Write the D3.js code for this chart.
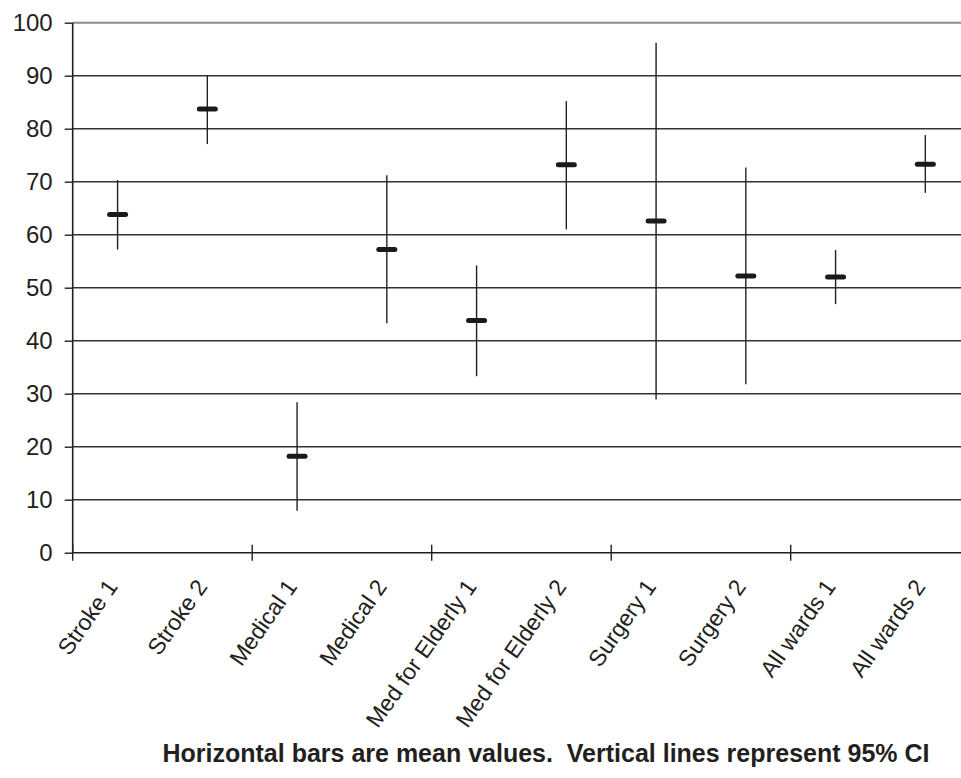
<!DOCTYPE html>
<html>
<head>
<meta charset="utf-8">
<script src="https://cdn.jsdelivr.net/npm/d3@7/dist/d3.min.js"></script>
<style>
  html, body { margin: 0; padding: 0; background: #fff; }
  svg { display: block; font-family: "Liberation Sans", Arial, sans-serif; }
</style>
</head>
<body>
<svg id="chart" width="961" height="778"></svg>
<script>
const categories = ["Stroke 1", "Stroke 2", "Medical 1", "Medical 2", "Med for Elderly 1",
  "Med for Elderly 2", "Surgery 1", "Surgery 2", "All wards 1", "All wards 2"];
const means = [63.8, 83.7, 18.2, 57.2, 43.8, 73.2, 62.6, 52.2, 52.0, 73.3];
const lower = [57.2, 77.1, 7.9, 43.3, 33.3, 61.0, 28.9, 31.8, 46.9, 67.9];
const upper = [70.3, 90.0, 28.4, 71.2, 54.2, 85.2, 96.2, 72.7, 57.1, 78.8];
const yTicks = [0, 10, 20, 30, 40, 50, 60, 70, 80, 90, 100];
const caption = "Horizontal bars are mean values.  Vertical lines represent 95% CI";

(function () {
const svg = d3.select("#chart");
const mLeft = 72.7, mRight = 970.2, mTop = 22.7, mBottom = 552.7;
const ink = "#231f20";

const x = d3.scaleBand().domain(categories).range([mLeft, mRight]).paddingInner(0).paddingOuter(0);
const y = d3.scaleLinear().domain([0, 100]).range([mBottom, mTop]);

// gridlines
svg.append("g").selectAll("line").data(yTicks.filter(v => v > 0)).join("line")
  .attr("x1", mLeft).attr("x2", mRight)
  .attr("y1", d => y(d)).attr("y2", d => y(d))
  .attr("stroke", d => d === 100 ? "#8a8a8a" : "#333")
  .attr("stroke-width", d => d === 100 ? 2 : 1.4);

// y axis
const yAxis = d3.axisLeft(y).tickValues(yTicks).tickSize(8).tickPadding(12);
const gy = svg.append("g").attr("transform", `translate(${mLeft},0)`).call(yAxis);
gy.select(".domain").attr("stroke", ink).attr("stroke-width", 1.6).attr("d", `M0,${mBottom}V${mTop}`);
gy.selectAll(".tick line").attr("stroke", ink).attr("stroke-width", 1.4);
gy.selectAll(".tick text").attr("fill", ink).attr("font-size", 24)
  .attr("font-family", "Liberation Sans, Arial, sans-serif");

// x axis line
svg.append("line").attr("x1", mLeft).attr("x2", mRight).attr("y1", mBottom).attr("y2", mBottom)
  .attr("stroke", ink).attr("stroke-width", 1.6);

// x tick marks every two categories
svg.append("g").selectAll("line").data(categories.filter((c, i) => i % 2 === 0)).join("line")
  .attr("x1", d => x(d)).attr("x2", d => x(d))
  .attr("y1", mBottom - 8).attr("y2", mBottom + 8)
  .attr("stroke", ink).attr("stroke-width", 1.4);

// category labels
svg.append("g").selectAll("text").data(categories).join("text")
  .attr("transform", d => `translate(${x(d) + x.bandwidth() / 2 + 1},${mBottom + 34}) rotate(-55)`)
  .attr("text-anchor", "end")
  .attr("font-size", 23)
  .attr("fill", ink)
  .text(d => d);

// CI lines
const cx = d => x(d) + x.bandwidth() / 2;
svg.append("g").selectAll("line").data(categories).join("line")
  .attr("x1", cx).attr("x2", cx)
  .attr("y1", (d, i) => y(lower[i])).attr("y2", (d, i) => y(upper[i]))
  .attr("stroke", ink).attr("stroke-width", 1.4);

// mean bars
svg.append("g").selectAll("line").data(categories).join("line")
  .attr("x1", d => cx(d) - 8).attr("x2", d => cx(d) + 8)
  .attr("y1", (d, i) => y(means[i])).attr("y2", (d, i) => y(means[i]))
  .attr("stroke", "#1a1a1a").attr("stroke-width", 5).attr("stroke-linecap", "round");

// caption
svg.append("text")
  .attr("x", 546).attr("y", 762)
  .attr("text-anchor", "middle")
  .attr("font-size", 25).attr("font-weight", "bold")
  .attr("fill", ink)
  .style("white-space", "pre")
  .text(caption);
})();
</script>
</body>
</html>
